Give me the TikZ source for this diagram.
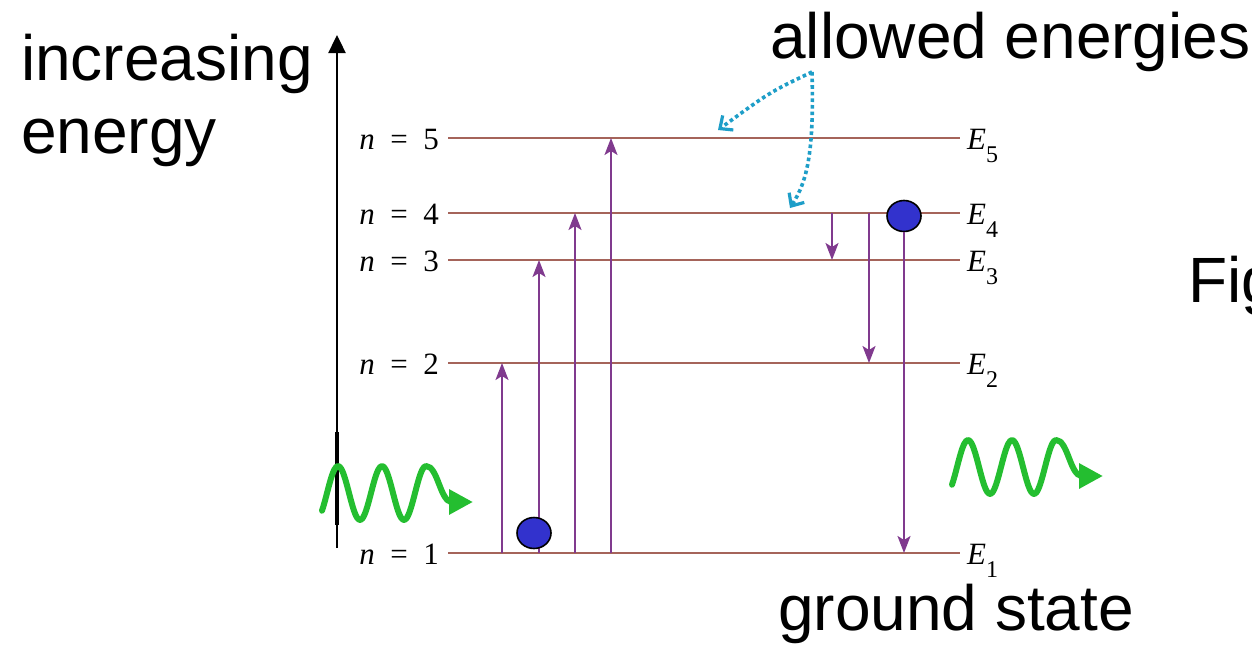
\documentclass[tikz,border=0pt]{standalone}
\usepackage{fontspec}
\setmainfont{Liberation Sans}
\newfontfamily\serif{Liberation Serif}
\usepackage{xcolor}
\usetikzlibrary{shapes.geometric, arrows.meta, positioning}

\definecolor{levelbrown}{RGB}{165,100,90}
\definecolor{jumppurple}{RGB}{128,58,142}
\definecolor{dotcyan}{RGB}{30,158,200}
\definecolor{photongreen}{RGB}{36,190,48}
\definecolor{ballblue}{RGB}{50,50,205}

\newcommand{\Elab}[1]{{\itshape E}\raisebox{-0.42em}{\fontsize{24}{24}\selectfont #1}}
\newcommand{\nlab}[1]{{\itshape n}\hspace{0.5em}=\hspace{0.5em}#1}

\begin{document}
\begin{tikzpicture}[
        x=1pt, y=-1pt,
        >={Stealth[scale=1]},
        levelline/.style={draw=levelbrown, line width=2.8pt},
        jump/.style={-{Stealth[length=17pt, width=13pt, inset=4pt]}, draw=jumppurple, line width=1.9pt},
        axis/.style={-{Triangle[length=18pt, width=17pt]}, draw=black, line width=2.4pt},
        pointer/.style={draw=dotcyan, line width=3.6pt, dash pattern=on 3.6pt off 3pt,
            -{Straight Barb[length=10pt, width=18pt, line width=3.2pt]}},
        photon/.style={draw=photongreen, line width=6pt, line cap=round, line join=round,
            -{Triangle[length=24pt, width=24pt]}},
        electron/.style={ellipse, draw=black, line width=1.6pt, fill=ballblue,
            minimum width=34pt, minimum height=31pt, inner sep=0pt},
        lvl/.style={font=\serif\fontsize{31}{31}\selectfont, inner sep=0pt},
        big/.style={font=\fontsize{64}{73}\selectfont, inner sep=0pt, align=left}
    ]
        \clip (0,0) rectangle (1252,651);
        \fill[white] (0,0) rectangle (1252,651);

        % energy axis
        \draw[axis] (337,548) -- (337,35);
        \draw[line width=4.4pt] (337,432) -- (337,525);

        % levels
        \foreach \n/\y in {1/553, 2/363, 3/260, 4/213, 5/138} {
            \coordinate (l\n) at (448,\y);
            \coordinate (r\n) at (960,\y);
            \draw[levelline] (l\n) -- (r\n);
            \node[lvl, anchor=base east] (n\n) at (439,\y+11) {\nlab{\n}};
            \node[lvl, anchor=base west] (E\n) at (967,\y+11) {\Elab{\n}};
        }

        % absorption
        \foreach \x/\n in {502/2, 539/3, 575/4, 611/5} {
            \coordinate (up\n) at (\x,0);
            \draw[jump] (up\n |- l1) -- (up\n |- l\n);
        }

        % emission
        \coordinate (dn3) at (832,0);
        \coordinate (dn2) at (869,0);
        \draw[jump] (dn3 |- l4) -- (dn3 |- l3);
        \draw[jump] (dn2 |- l4) -- (dn2 |- l2);

        \node[electron] (e4) at (904,216) {};
        \node[electron] (e1) at (534,533) {};
        \draw[jump] (e4.south) -- (e4.south |- l1);

        % photons
        \draw[photon] plot[domain=322:426, samples=60, smooth]
            (\x, {493-27*sin(8.1818*(\x-322)-41)})
            .. controls (438,466) and (440,502) .. (452,502) -- (473,502);
        \begin{scope}[shift={(630,-26)}]
            \draw[photon] plot[domain=322:426, samples=60, smooth]
                (\x, {493-27*sin(8.1818*(\x-322)-41)})
                .. controls (438,466) and (440,502) .. (452,502) -- (473,502);
        \end{scope}

        % texts
        \node[big, anchor=base west] (incr) at (21,153) {increasing\\energy};
        \node[big, anchor=base west] (allowed) at (770,58) {allowed energies};
        \node[big, anchor=base west] (ground) at (778,630) {ground state};
        \node[big, anchor=base west] (fig) at (1188,302) {Fig};

        % pointers
        \coordinate (ptr) at (812,72);
        \draw[pointer] (ptr) .. controls (770,92) .. (718,130);
        \draw[pointer] (ptr) .. controls (814,150) and (808,180) .. (790,208);

    \end{tikzpicture}
\end{document}
